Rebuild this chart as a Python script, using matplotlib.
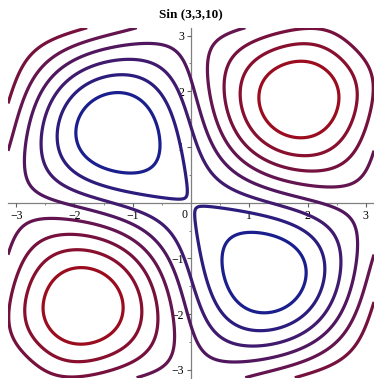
import numpy as np
import matplotlib.pyplot as plt
from matplotlib.colors import LinearSegmentedColormap
from matplotlib.ticker import MultipleLocator, FixedLocator

# surface: sin(x)sin(y) - c*(cos(x) + cos(y)), pulled down near the (pi,pi) and (-pi,-pi) corners
c = 0.3
dip_depth = 0.45
dip_width = 0.85
dip_centres = [(np.pi, np.pi), (-np.pi, -np.pi)]
levels = [-0.848, -0.606, -0.363, -0.121, 0.121, 0.363, 0.606, 0.848]
xticks = [-3, -2, -1, 1, 2, 3]
yticks = [-3, -2, -1, 1, 2, 3]

x = np.linspace(-np.pi, np.pi, 400)
y = np.linspace(-np.pi, np.pi, 400)
X, Y = np.meshgrid(x, y)
Z = np.sin(X) * np.sin(Y) - c * (np.cos(X) + np.cos(Y))
for cx, cy in dip_centres:
    Z -= dip_depth * np.exp(-((X - cx) ** 2 + (Y - cy) ** 2) / dip_width ** 2)

cmap = LinearSegmentedColormap.from_list("bluered", ["#1b1f8e", "#9a0c1e"])

fig = plt.figure(figsize=(3.74, 3.79), dpi=100)
ax = fig.add_axes([8 / 374, 1 - 377.7 / 379, 366 / 374, 350 / 379])
ax.contour(X, Y, Z, levels=levels, cmap=cmap, linewidths=2.3)
ax.set_xlim(-np.pi, np.pi)
ax.set_ylim(-np.pi, np.pi)

# axes through the origin
for s in ["top", "right"]:
    ax.spines[s].set_visible(False)
ax.spines["left"].set_position(("data", 0))
ax.spines["bottom"].set_position(("data", 0))
for s in ["left", "bottom"]:
    ax.spines[s].set_color("#808080")
    ax.spines[s].set_linewidth(0.9)
    ax.spines[s].set_zorder(0)

ax.xaxis.set_major_locator(FixedLocator(xticks))
ax.yaxis.set_major_locator(FixedLocator(yticks))
ax.xaxis.set_minor_locator(MultipleLocator(0.5))
ax.yaxis.set_minor_locator(MultipleLocator(0.5))
ax.tick_params(which="major", direction="out", length=3, width=0.8, color="#606060",
               labelsize=8.5, pad=2)
ax.tick_params(which="minor", direction="out", length=1.6, width=0.7, color="#808080")
ax.set_xticklabels(["\u22123", "\u22122", "\u22121", "1", "2", "3"], family="Liberation Serif")
ax.set_yticklabels(["\u22123", "\u22122", "\u22121", "1", "2", "3"], family="Liberation Serif")
ax.text(-0.06, -0.12, "0", ha="right", va="top", fontsize=8.5, family="Liberation Serif")

fig.text(0.51, 0.962, "Sin (3,3,10)", ha="center", va="center", fontsize=9.5,
         fontweight="bold", family="Liberation Serif")

fig.savefig("out.png", dpi=100)
